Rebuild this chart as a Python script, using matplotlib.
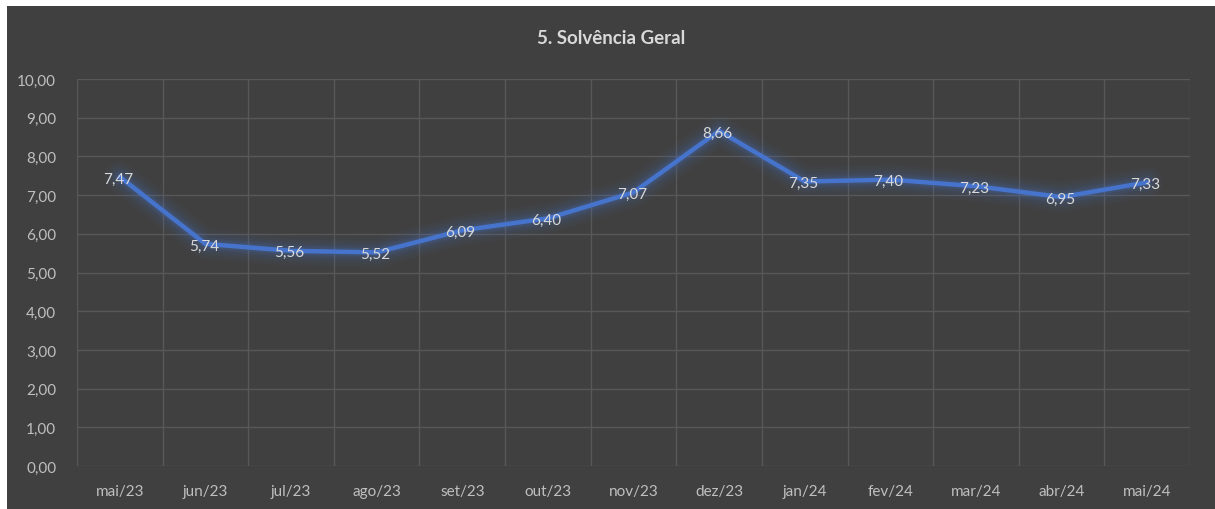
import matplotlib

matplotlib.use("Agg")
import matplotlib.pyplot as plt
from matplotlib.patches import Rectangle
import numpy as np

# Dados do gráfico
meses = ["mai/23", "jun/23", "jul/23", "ago/23", "set/23", "out/23", "nov/23",
         "dez/23", "jan/24", "fev/24", "mar/24", "abr/24", "mai/24"]
solvencia = [7.47, 5.74, 5.56, 5.52, 6.09, 6.40, 7.07, 8.66, 7.35, 7.40, 7.23, 6.95, 7.33]
yticks = [0, 1, 2, 3, 4, 5, 6, 7, 8, 9, 10]

plt.rcParams["font.family"] = ["Lato", "DejaVu Sans"]

bg = "#404040"
grid_c = "#585858"
line_c = "#4674cc"

fig = plt.figure(figsize=(12.15, 5.10), dpi=100, facecolor="white")
fig.patches.append(Rectangle((7 / 1215, 0), 1 - 7 / 1215, 1 - 7 / 510,
                             transform=fig.transFigure, facecolor=bg,
                             edgecolor="none", zorder=-10))

ax = fig.add_axes([77 / 1215, 1 - 467 / 510, (1190 - 77) / 1215, (467 - 80) / 510])
ax.set_zorder(1)
ax.set_facecolor(bg)

x = np.arange(len(meses))

# brilho em volta da linha
for w, a in [(22, 0.04), (17, 0.05), (13, 0.07), (9, 0.10), (6, 0.14)]:
    ax.plot(x, solvencia, color=line_c, lw=w, alpha=a, solid_capstyle="round",
            solid_joinstyle="round", zorder=2)
ax.plot(x, solvencia, color=line_c, lw=3.2, solid_capstyle="round",
        solid_joinstyle="round", zorder=3)

for xi, v in zip(x, solvencia):
    ax.text(xi - 0.02, v - 0.04, f"{v:.2f}".replace(".", ","), ha="center", va="center",
            color="#d9d9d9", fontsize=11, zorder=4)

ax.set_xlim(-0.5, len(meses) - 0.5)
ax.set_ylim(0, 10)
ax.set_yticks(yticks)
ax.set_yticklabels([f"{t:.2f}".replace(".", ",") for t in yticks])
ax.set_xticks(x)
ax.set_xticklabels(meses)
ax.set_xticks(np.arange(-0.5, len(meses), 1), minor=True)

ax.tick_params(axis="both", which="both", length=0, colors="#bfbfbf", labelsize=11)
ax.tick_params(axis="y", pad=15)
ax.tick_params(axis="x", pad=13)
ax.grid(True, axis="y", which="major", color=grid_c, lw=1)
ax.grid(True, axis="x", which="minor", color=grid_c, lw=1)
ax.set_axisbelow(True)
for s in ax.spines.values():
    s.set_visible(False)

fig.text(611 / 1215, 1 - 39 / 510, "5. Solvência Geral", ha="center", va="center",
         color="#d9d9d9", fontsize=13.5, fontweight="bold")

fig.savefig("out.png", dpi=100, facecolor=fig.get_facecolor())
